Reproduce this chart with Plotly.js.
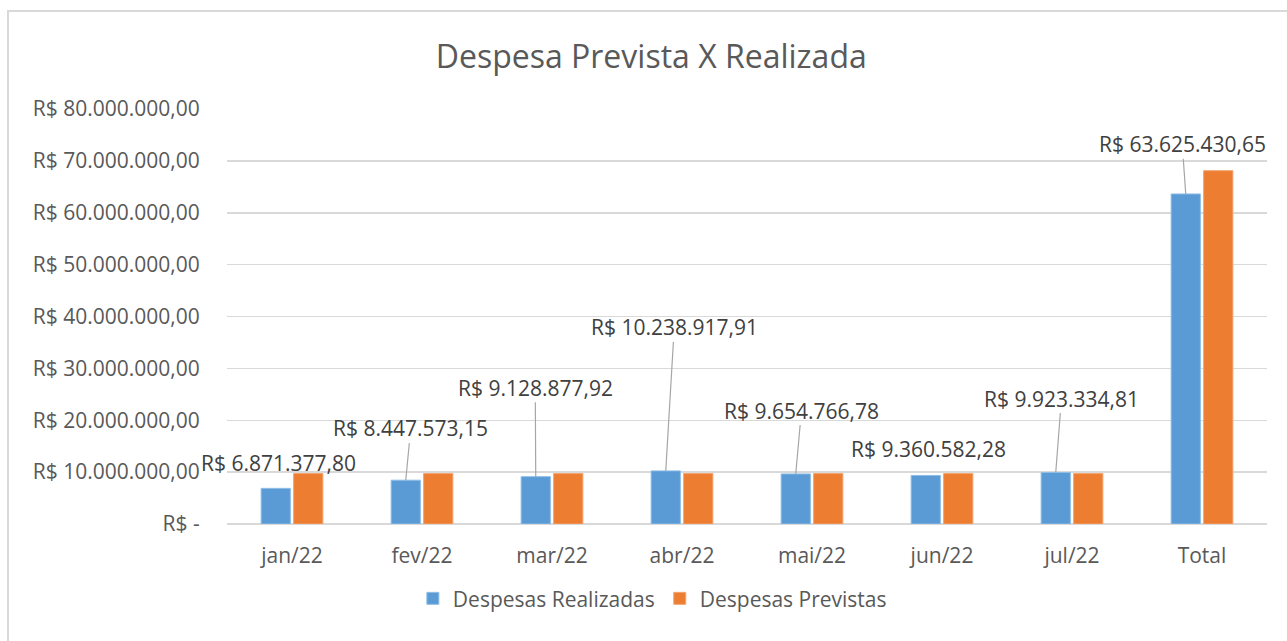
<!DOCTYPE html>
<html>
<head>
<meta charset="utf-8">
<script src="https://cdn.plot.ly/plotly-3.0.1.min.js"></script>
<style>
  html, body { margin: 0; padding: 0; background: #ffffff; }
  #wrap { position: relative; width: 1287px; height: 641px; overflow: hidden; }
  #chart { position: absolute; left: 0; top: 0; width: 1287px; height: 641px; }
  #frame { position: absolute; left: 7px; top: 10px; width: 1290px; height: 640px;
           border-left: 2px solid #d9d9d9; border-top: 2px solid #d9d9d9; pointer-events: none; }
</style>
</head>
<body>
<div id="wrap"><div id="chart"></div><div id="frame"></div></div>
<script>
// ---- data ----
const categories = ["jan/22", "fev/22", "mar/22", "abr/22", "mai/22", "jun/22", "jul/22", "Total"];
const despesasRealizadas = [6871377.80, 8447573.15, 9128877.92, 10238917.91, 9654766.78, 9360582.28, 9923334.81, 63625430.65];
const despesasPrevistas = [9730000, 9730000, 9730000, 9730000, 9730000, 9730000, 9730000, 68110000];
const yTickValues = [0, 10000000, 20000000, 30000000, 40000000, 50000000, 60000000, 70000000, 80000000];
const yTickLabels = ["R$ -", "R$ 10.000.000,00", "R$ 20.000.000,00", "R$ 30.000.000,00", "R$ 40.000.000,00",
                     "R$ 50.000.000,00", "R$ 60.000.000,00", "R$ 70.000.000,00", "R$ 80.000.000,00"];
const seriesNames = ["Despesas Realizadas", "Despesas Previstas"];
const chartTitle = "Despesa Prevista X Realizada";

// ---- label placement (pixel offsets from bar top) ----
const labelOffsetX = [2.5, 5, -0.5, 8.5, 5.7, 2.5, 5.7, -3.5];
const labelOffsetY = [-25.5, -51.7, -89, -143.4, -63.4, -26, -74, -49.6];
const labelHasLine = [false, true, true, true, true, false, true, true];

function formatBRL(v) {
  const fixed = v.toFixed(2);
  const parts = fixed.split(".");
  const intPart = parts[0].replace(/\B(?=(\d{3})+(?!\d))/g, ".");
  return "R$ " + intPart + "," + parts[1];
}

const FONT = "'Open Sans', 'DejaVu Sans', sans-serif";
const TXT = "#595959";

const traces = [
  {
    type: "bar", name: seriesNames[0], x: categories, y: despesasRealizadas,
    marker: { color: "#5b9bd5", line: { color: "#8fbde6", width: 1 } },
    hoverinfo: "skip"
  },
  {
    type: "bar", name: seriesNames[1], x: categories, y: despesasPrevistas,
    marker: { color: "#ed7d31", line: { color: "#f3a46f", width: 1 } },
    hoverinfo: "skip"
  }
];

const annotations = categories.map((c, i) => ({
  x: c, y: despesasRealizadas[i], xref: "x", yref: "y",
  xshift: -16.25,
  text: formatBRL(despesasRealizadas[i]),
  showarrow: true, arrowhead: 0, arrowwidth: 1.2,
  arrowcolor: labelHasLine[i] ? "#a6a6a6" : "rgba(0,0,0,0)",
  ax: labelOffsetX[i], ay: labelOffsetY[i], standoff: 0, startstandoff: 0,
  font: { family: FONT, size: 21, color: "#404040" },
  borderpad: 0
}));

const layout = {
  width: 1287, height: 641,
  paper_bgcolor: "rgba(0,0,0,0)", plot_bgcolor: "rgba(0,0,0,0)",
  margin: { l: 227.3, r: 19.7, t: 109, b: 116.7 },
  title: { text: chartTitle, font: { family: FONT, size: 32, color: TXT }, x: 0.506, xanchor: "center", y: 0.911, yanchor: "middle" },
  barmode: "group", bargap: 0.5, bargroupgap: 0.1,
  xaxis: {
    type: "category", range: [-0.5, categories.length - 0.5], autorange: false,
    showgrid: false, zeroline: false, showline: false,
    tickfont: { family: FONT, size: 21, color: TXT }, ticks: "outside", ticklen: 13, tickcolor: "rgba(0,0,0,0)",
    fixedrange: true
  },
  yaxis: {
    range: [0, 80000000], autorange: false, tickmode: "array", tickvals: yTickValues, ticktext: yTickLabels,
    showgrid: true, gridcolor: "#d9d9d9", gridwidth: 1.5, zeroline: true, zerolinecolor: "#d9d9d9", zerolinewidth: 1.5,
    showline: false, ticks: "outside", ticklen: 22, tickcolor: "rgba(0,0,0,0)",
    tickfont: { family: FONT, size: 21, color: TXT }, fixedrange: true
  },
  legend: {
    orientation: "h", x: 0.409, xanchor: "center", y: -0.18, yanchor: "middle",
    font: { family: FONT, size: 21, color: TXT }, itemwidth: 30, traceorder: "normal"
  },
  annotations: annotations,
  showlegend: true
};

Plotly.newPlot("chart", traces, layout, { displayModeBar: false, staticPlot: true });
</script>
</body>
</html>
